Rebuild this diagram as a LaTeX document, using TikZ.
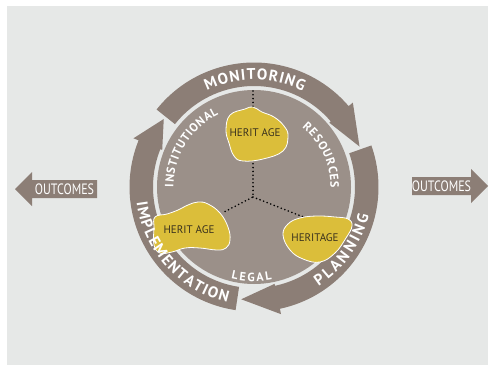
\documentclass[tikz,border=0pt]{standalone}
\usepackage{fontspec}
\setmainfont{PT Sans}
\newfontfamily\outfont[FakeStretch=0.8]{PT Sans}
\usetikzlibrary{decorations.text}

\definecolor{bgc}{RGB}{230,232,231}
\definecolor{bandc}{RGB}{140,126,118}
\definecolor{diskc}{RGB}{155,144,137}
\definecolor{blobc}{RGB}{219,190,58}
\definecolor{blobtxt}{RGB}{58,50,30}

\newcommand\bandfont{\bfseries\fontsize{15.5}{16}\selectfont\color{white}}
\newcommand\ringfont{\bfseries\fontsize{12}{13}\selectfont\color{white}}

\tikzset{
  band/.style={fill=bandc},
  blob/.style={fill=blobc, draw=white, line width=0.8pt},
  blobtext/.style={text=blobtxt, font=\fontsize{11}{12}\selectfont, inner sep=0pt},
  outtext/.style={text=white, font=\outfont\fontsize{15}{15}\selectfont, inner sep=0pt},
  dots/.style={line width=1.8pt, dash pattern=on 0pt off 3.8pt, line cap=round},
  ontext/.style={decorate, decoration={text along path, text align=fit to path, text={#1}}}
}

\begin{document}
\begin{tikzpicture}[x=1pt,y=1pt]
\useasboundingbox (0,0) rectangle (489,368);
\fill[white] (0,0) rectangle (489,368);
\fill[bgc] (7,3) rectangle (488,362);

% the cycle arrows, centre of the ring
\begin{scope}[shift={(254,181)}]
% monitoring
\fill[band] (141.5:124.5) arc[start angle=141.5, end angle=40.5, radius=124.5] -- (40.5:130) -- (21:113)
  -- (40.5:99) -- (40.5:101) arc[start angle=40.5, end angle=141.5, radius=101] -- cycle;
% planning
\fill[band] (19.5:124.5) arc[start angle=19.5, end angle=-78, radius=124.5] -- (-78:130) -- (-96.5:113)
  -- (-78:99) -- (-78:101) arc[start angle=-78, end angle=19.5, radius=101] -- cycle;
% implementation
\fill[band] (-98.5:124.5) arc[start angle=-98.5, end angle=-202, radius=124.5] -- (-202:130) -- (-217:113)
  -- (-202:99) -- (-202:101) arc[start angle=-202, end angle=-98.5, radius=101] -- cycle;
\end{scope}

% pixel coordinates, y downwards
\begin{scope}[yshift=368pt, yscale=-1]
% outcome arrows
\fill[band] (15,189) -- (32,172) -- (32,180) -- (97,180) -- (97,198) -- (32,198) -- (32,206) -- cycle;
\node[outtext] (outleft) at (64.5,189) {OUTCOMES};
\fill[band] (488,186) -- (471,169) -- (471,177) -- (412,177) -- (412,195) -- (471,195) -- (471,203) -- cycle;
\node[outtext] (outright) at (441.5,186) {OUTCOMES};

\fill[diskc] (254,187) circle[radius=97];

% dotted links
\coordinate (hub) at (253,197);
\coordinate (toptip) at (253,91);
\coordinate (topup) at (253,108);
\coordinate (topdown) at (253,160);
\coordinate (leftend) at (224,212);
\coordinate (rightend) at (306,218);
\draw[dots] (toptip) -- (topup);
\draw[dots] (topdown) -- (hub) -- (leftend);
\draw[dots] (hub) -- (rightend);

% heritage blobs
\draw[blob] plot[smooth cycle, tension=0.7] coordinates {(226,130) (230,115) (245,109) (253,107) (262,112)
  (274,117) (284,126) (288,136) (283,151) (263,159) (243,161) (234,156) (229,143)};
\draw[blob] plot[smooth cycle, tension=0.7] coordinates {(155,217) (167,214) (178,210) (188,205) (198,202)
  (208,204) (220,213) (228,227) (230,240) (226,248) (217,250) (200,248) (185,248) (172,252) (160,253)
  (154,245) (154,228)};
\draw[blob] plot[smooth cycle, tension=0.7] coordinates {(283,235) (288,224) (300,218) (317,216) (335,217)
  (348,219) (352,226) (346,238) (335,253) (320,262) (303,259) (290,250)};
\node[blobtext] (hertop) at (255,133) {HERIT AGE};
\node[blobtext] (herleft) at (189,230) {HERIT AGE};
\node[blobtext] (herright) at (315,238) {HERITAGE};
\end{scope}

% labels along the ring
\begin{scope}[shift={(254,181)}]
\path[ontext={|\bandfont|MONITORING}] (116:107.5) arc[start angle=116, end angle=63, radius=107.5];
\path[ontext={|\bandfont|PLANNING}] (-57:118.5) arc[start angle=-57, end angle=-14, radius=118.5];
\path[ontext={|\bandfont|IMPLEMENTATION}] (187.5:118.5) arc[start angle=187.5, end angle=257, radius=118.5];
\path[ontext={|\ringfont|INSTITUTIONAL}] (180:80.5) arc[start angle=180, end angle=116, radius=80.5];
\path[ontext={|\ringfont|RESOURCES}] (51:76.5) arc[start angle=51, end angle=-1, radius=76.5];
\path[ontext={|\ringfont|LEGAL}] (-104:94.5) arc[start angle=-104, end angle=-79, radius=94.5];
\end{scope}
\end{tikzpicture}
\end{document}
